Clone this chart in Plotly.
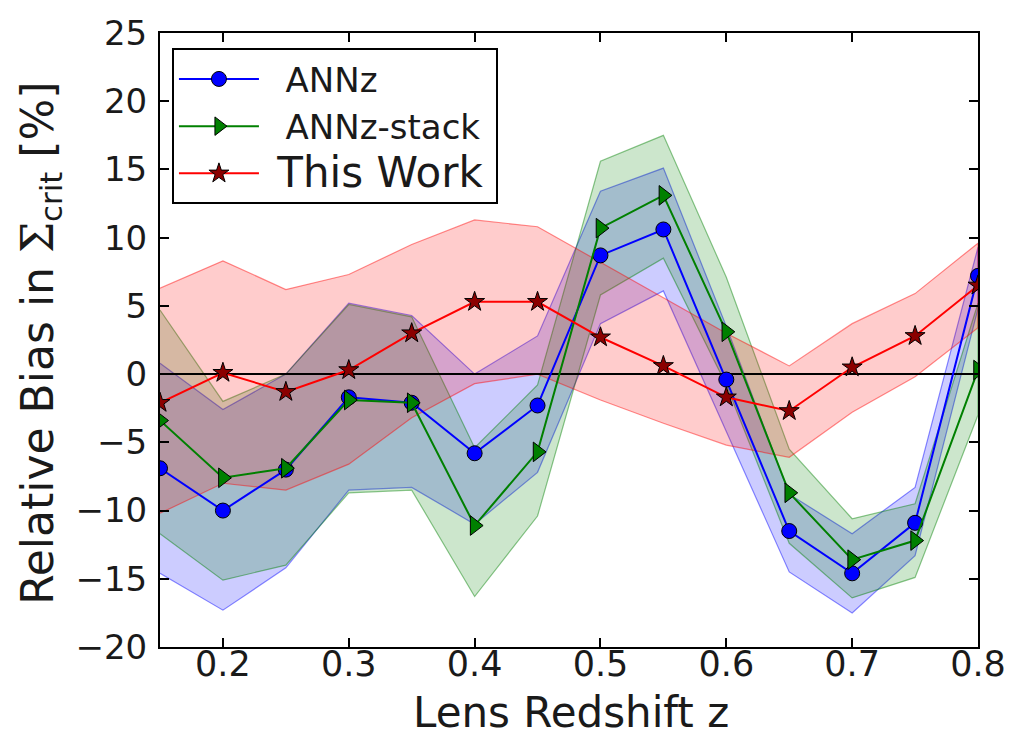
import plotly.graph_objects as go

z = [0.15, 0.2, 0.25, 0.3, 0.35, 0.4, 0.45, 0.5, 0.55, 0.6, 0.65, 0.7, 0.75, 0.8]

annz = [-6.9, -10.0, -7.0, -1.7, -2.1, -5.8, -2.3, 8.7, 10.6, -0.4, -11.5, -14.6, -10.9, 7.2]
annz_hi = [0.8, -2.6, 0.0, 5.2, 4.3, 0.0, 2.8, 13.4, 15.1, 3.5, -8.8, -11.7, -8.3, 9.3]
annz_lo = [-14.6, -17.3, -14.2, -8.5, -8.3, -11.0, -7.2, 3.7, 6.1, -4.2, -14.5, -17.5, -13.3, 4.8]

stack = [-3.4, -7.6, -6.9, -1.9, -2.1, -11.1, -5.7, 10.7, 13.1, 3.1, -8.7, -13.6, -12.2, 0.3]
stack_hi = [4.7, -2.0, 0.0, 5.1, 4.2, -5.4, -0.8, 15.6, 17.5, 7.1, -5.5, -10.6, -9.5, 5.2]
stack_lo = [-11.7, -15.1, -14.0, -8.7, -8.5, -16.3, -10.4, 5.8, 8.5, -0.8, -12.4, -16.4, -14.9, -3.0]

work = [-2.1, 0.1, -1.3, 0.3, 3.0, 5.3, 5.3, 2.7, 0.6, -1.7, -2.7, 0.5, 2.8, 6.5]
work_hi = [6.3, 8.3, 6.2, 7.3, 9.5, 11.3, 10.8, 8.2, 5.6, 3.0, 0.6, 3.7, 5.9, 9.6]
work_lo = [-10.2, -8.0, -8.5, -6.6, -3.2, -0.7, 0.0, -1.9, -3.6, -5.2, -6.1, -2.8, -0.2, 3.4]

x_ticks = [0.2, 0.3, 0.4, 0.5, 0.6, 0.7, 0.8]
y_ticks = [-20, -15, -10, -5, 0, 5, 10, 15, 20, 25]

FONT = "DejaVu Sans"
TXT = "#1a1a1a"

fig = go.Figure()


def band(lo, hi, fillc, edgec):
    fig.add_trace(go.Scatter(
        x=z + z[::-1], y=hi + lo[::-1], mode="lines", fill="toself",
        fillcolor=fillc, line=dict(color=edgec, width=1.2),
        showlegend=False, hoverinfo="skip"))


band(annz_lo, annz_hi, "rgba(0,0,255,0.2)", "rgba(0,0,255,0.45)")
band(stack_lo, stack_hi, "rgba(0,128,0,0.2)", "rgba(0,128,0,0.45)")
band(work_lo, work_hi, "rgba(255,0,0,0.2)", "rgba(255,0,0,0.45)")

# zero line
fig.add_trace(go.Scatter(x=[0.15, 0.8], y=[0, 0], mode="lines",
                         line=dict(color="black", width=2),
                         showlegend=False, hoverinfo="skip"))

NB = "\u00a0"
fig.add_trace(go.Scatter(
    x=z, y=annz, mode="lines+markers", name=NB * 2 + "ANNz",
    line=dict(color="#0000ff", width=2),
    marker=dict(symbol="circle", size=15, color="#0000ff",
                line=dict(color="black", width=1))))
fig.add_trace(go.Scatter(
    x=z, y=stack, mode="lines+markers", name=NB * 2 + "ANNz-stack" + NB,
    line=dict(color="#008000", width=2),
    marker=dict(symbol="triangle-right", size=17, color="#008000",
                line=dict(color="black", width=1))))
fig.add_trace(go.Scatter(
    x=z, y=work, mode="lines+markers",
    name='<span style="font-size:42px">' + NB + 'This Work</span>',
    line=dict(color="#ff0000", width=2),
    marker=dict(symbol="star", size=15, color="#8b0000",
                line=dict(color="black", width=1))))

fig.update_layout(
    width=1018, height=736,
    margin=dict(l=160, r=37, t=33, b=89),
    paper_bgcolor="white", plot_bgcolor="white",
    font=dict(family=FONT, color=TXT),
    legend=dict(x=0.0146, y=0.975, xanchor="left", yanchor="top",
                bgcolor="white", bordercolor="black", borderwidth=2,
                font=dict(size=34, family=FONT, color=TXT),
                itemwidth=80, tracegroupgap=0),
    showlegend=True,
)

fig.update_xaxes(
    range=[0.15, 0.8], tickvals=x_ticks, ticktext=[f"{v:.1f}" for v in x_ticks],
    ticks="inside", ticklen=9, tickwidth=1.5, tickcolor="black",
    showline=True, linecolor="black", linewidth=2, mirror="ticks",
    showgrid=False, zeroline=False,
    tickfont=dict(size=35, family=FONT, color=TXT), ticklabelstandoff=-15,
)
fig.update_yaxes(
    range=[-20, 25], tickvals=y_ticks,
    ticks="inside", ticklen=9, tickwidth=1.5, tickcolor="black",
    showline=True, linecolor="black", linewidth=2, mirror="ticks",
    showgrid=False, zeroline=False,
    tickfont=dict(size=34, family=FONT, color=TXT), ticklabelstandoff=4,
)

fig.add_annotation(text="Lens Redshift z", xref="paper", yref="paper",
                   x=0.503, y=-0.0635, xanchor="center", yanchor="top",
                   showarrow=False, font=dict(size=42, family=FONT, color=TXT))
fig.add_annotation(
    text='Relative Bias in <span style="font-family:\'DejaVu Serif\'">Σ</span><sub>crit</sub> [%]',
    xref="paper", yref="paper",
    x=-0.147, y=0.495, xanchor="center", yanchor="middle", textangle=-90,
    showarrow=False, font=dict(size=44, family=FONT, color=TXT))

fig.write_html("out.html")
